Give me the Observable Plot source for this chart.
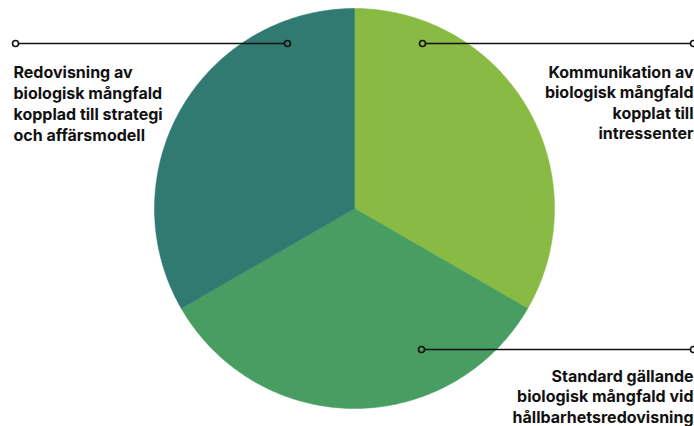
<!DOCTYPE html>
<html>
<head>
<meta charset="utf-8">
<script src="https://cdn.jsdelivr.net/npm/d3@7"></script>
<script src="https://cdn.jsdelivr.net/npm/@observablehq/plot@0.6"></script>
<style>
  html, body { margin: 0; padding: 0; background: #fff; }
  #chart svg { display: block; }
</style>
</head>
<body>
<div id="chart"></div>
<script>
// ---- data ----
const categories = [
  "Kommunikation av\nbiologisk mångfald\nkopplat till\nintressenter",
  "Standard gällande\nbiologisk mångfald vid\nhållbarhetsredovisning",
  "Redovisning av\nbiologisk mångfald\nkopplad till strategi\noch affärsmodell"
];
const values = [33.3, 33.3, 33.3];
const colors = ["#89ba44", "#479d62", "#307a72"];
// annotation anchors (unit space of the pie: radius = 1)
const dotX = [0.34, 0.335, -0.335];
const dotY = [0.825, -0.705, 0.825];
const endX = [1.695, 1.695, -1.695];
const labelSide = ["end", "end", "start"];
const labelDY = [0.1, 0.09, 0.1];

// ---- pie geometry from values ----
const pie = d3.pie().sort(null).value(d => d)(values);
const slicePts = [];
pie.forEach((p, i) => {
  const n = 120;
  slicePts.push({k: i, x: 0, y: 0});
  for (let j = 0; j <= n; j++) {
    const a = p.startAngle + (p.endAngle - p.startAngle) * j / n;
    slicePts.push({k: i, x: Math.sin(a), y: Math.cos(a)});
  }
  slicePts.push({k: i, x: 0, y: 0});
});

const leaders = [];
categories.forEach((c, i) => {
  leaders.push({k: i, x: dotX[i], y: dotY[i]});
  leaders.push({k: i, x: endX[i], y: dotY[i]});
});
const dots = [];
categories.forEach((c, i) => {
  dots.push({k: i, x: dotX[i], y: dotY[i], bg: colors[i]});
  dots.push({k: i, x: endX[i], y: dotY[i], bg: "#ffffff"});
});
const labels = categories.map((c, i) => ({
  text: c,
  x: endX[i] + (labelSide[i] === "start" ? -0.01 : 0.0),
  y: dotY[i] - labelDY[i],
  anchor: labelSide[i]
}));

const R = 200, cx = 354, cy = 208;
const chart = Plot.plot({
  width: 694,
  height: 426,
  margin: 0,
  x: {domain: [-1, 1], range: [cx - R, cx + R], axis: null},
  y: {domain: [-1, 1], range: [cy + R, cy - R], axis: null},
  style: {background: "#fff", overflow: "visible"},
  marks: [
    Plot.line(slicePts, {
      x: "x", y: "y", z: "k",
      fill: d => colors[d.k], stroke: d => colors[d.k], strokeWidth: 0.5
    }),
    Plot.line(leaders, {x: "x", y: "y", z: "k", stroke: "#111", strokeWidth: 1.6}),
    Plot.dot(dots, {x: "x", y: "y", r: 3, fill: "bg", stroke: "#111", strokeWidth: 1.6}),
    Plot.text(labels.filter(d => d.anchor === "start"), {
      x: "x", y: "y", text: "text", textAnchor: "start", lineAnchor: "top",
      fontSize: 16, fontWeight: 700, lineHeight: 1.3, fill: "#111",
      fontFamily: "Inter, 'Noto Sans', sans-serif"
    }),
    Plot.text(labels.filter(d => d.anchor === "end"), {
      x: "x", y: "y", text: "text", textAnchor: "end", lineAnchor: "top",
      fontSize: 16, fontWeight: 700, lineHeight: 1.27, fill: "#111",
      fontFamily: "Inter, 'Noto Sans', sans-serif"
    })
  ]
});
document.getElementById("chart").appendChild(chart);
</script>
</body>
</html>
